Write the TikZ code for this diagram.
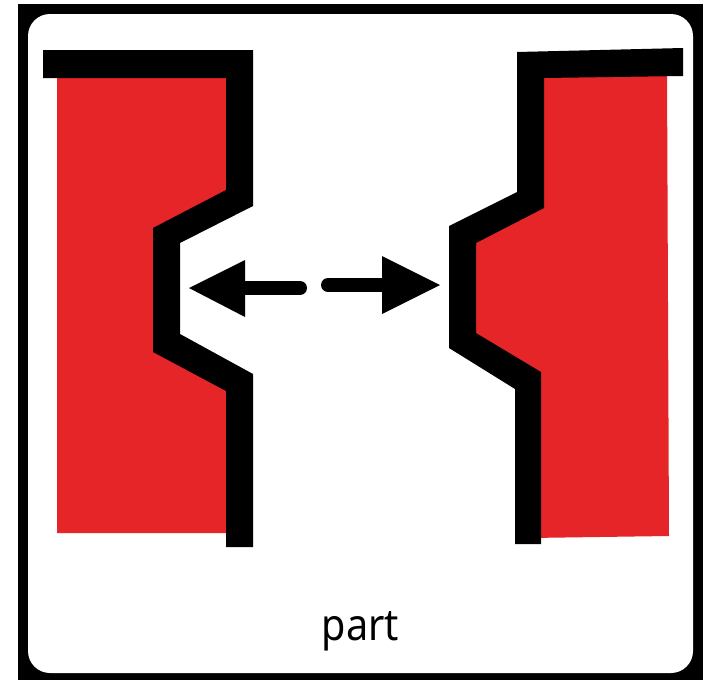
\documentclass[tikz,border=0pt]{standalone}
\usepackage{fontspec}
\setmainfont{Noto Sans}
\definecolor{partred}{HTML}{E52527}
\tikzset{
  px/.style={x=1pt,y=-1pt},
  wall/.style={fill=black,draw=none},
  body/.style={fill=partred,draw=none},
  shaft/.style={line width=14pt,line cap=round,draw=black},
  head/.style={fill=black,draw=none},
  caption/.style={font=\fontsize{44}{52}\selectfont,text=black,inner sep=0pt,anchor=base}
}
\begin{document}
\begin{tikzpicture}[px]
\useasboundingbox (0,0) rectangle (718,680);
\fill[white] (0,0) rectangle (718,680);
\fill[black] (18,4) rectangle (703,680);
\fill[white,rounded corners=22pt] (28,14) rectangle (693,673);
% red bodies
\fill[body] (57,70) -- (235,70) -- (235,195) -- (165,232) -- (165,345) -- (235,383) -- (235,533) -- (57,533) -- cycle;
\fill[body] (530,70) -- (667,70) -- (669,536) -- (530,538) -- (530,380) -- (462,340) -- (462,235) -- (530,200) -- cycle;
% left wall
\fill[wall] (43,50) -- (253,50) -- (253,206) -- (180,243) -- (180,334) -- (253,374) -- (253,547) -- (226,547) -- (226,391) -- (153,352) -- (153,228) -- (226,190) -- (226,78) -- (43,78) -- cycle;
% right wall
\fill[wall] (517,52) -- (683,48) -- (683,76) -- (544,78) -- (544,208) -- (476,243) -- (476,333) -- (541,372) -- (541,544) -- (515,544) -- (515,389) -- (449,348) -- (449,226) -- (517,192) -- cycle;
% arrows
\coordinate (lt) at (189,288);
\coordinate (lb) at (245,288);
\coordinate (le) at (300,288);
\coordinate (rt) at (440,285);
\coordinate (rb) at (382,285);
\coordinate (re) at (328,285);
\draw[shaft] (le) -- (lb);
\draw[shaft] (re) -- (rb);
\fill[head] (lt) -- (245,260) -- (245,317) -- cycle;
\fill[head] (rt) -- (382,256) -- (382,314) -- cycle;
\node[caption] (label) at (360.5,640) {\scalebox{0.9}[1]{part}};
\end{tikzpicture}
\end{document}
